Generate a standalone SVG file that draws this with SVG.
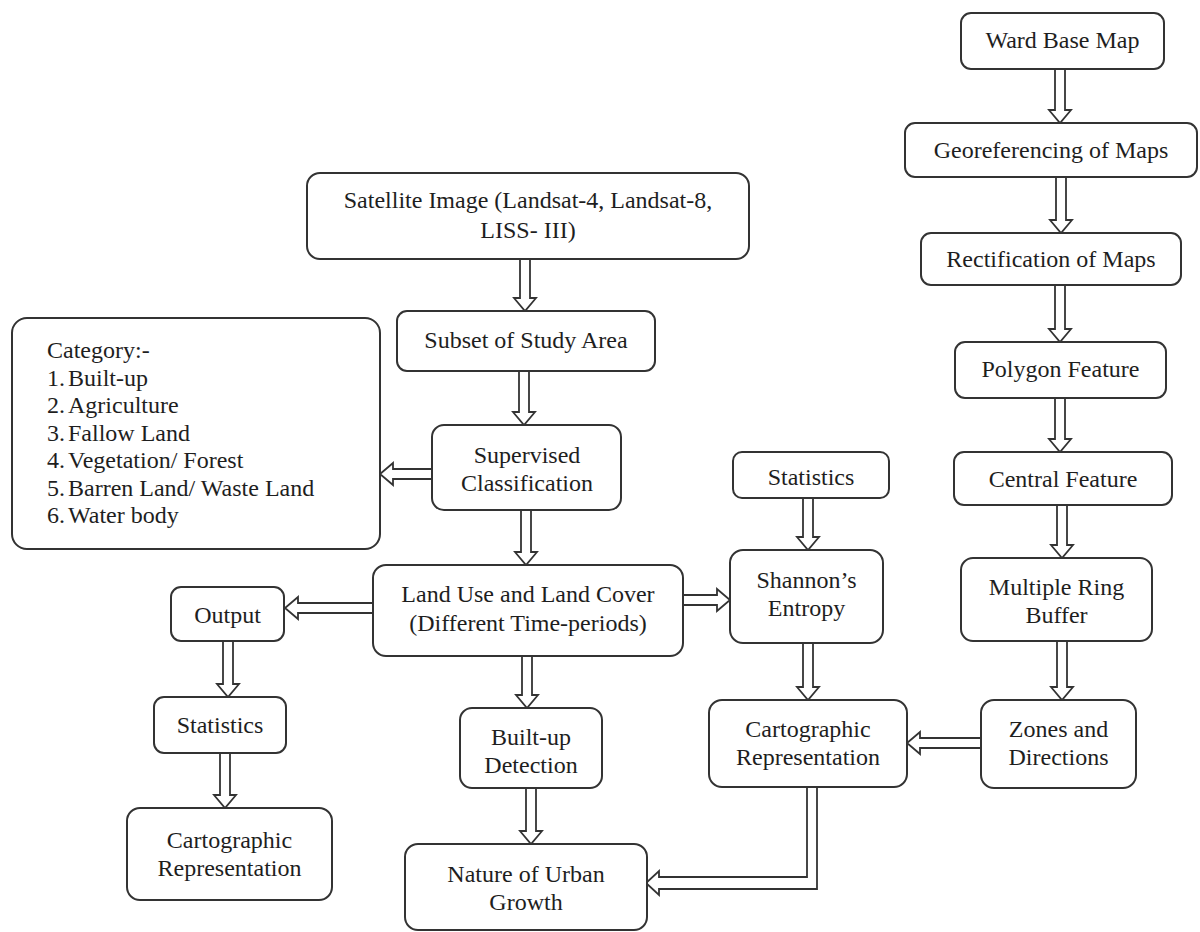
<svg xmlns="http://www.w3.org/2000/svg" width="1200" height="932" viewBox="0 0 1200 932">
<style>
.box{fill:#fff;stroke:#333;stroke-width:2}
.t{font-family:"Liberation Serif","Times New Roman",serif;font-size:24px;fill:#1e1e1e;text-anchor:middle}
.tl{font-family:"Liberation Serif","Times New Roman",serif;font-size:24px;fill:#1e1e1e}
.ar{fill:#fff;stroke:#333;stroke-width:1.8;stroke-linejoin:miter}
</style>
<rect width="1200" height="932" fill="#fff"/>
<g id="connectors">
<path class="ar" d="M520,259 V298 H514 L525,311 L536,298 H530 V259"/>
<path class="ar" d="M519,371 V412 H513 L524,425 L535,412 H529 V371"/>
<path class="ar" d="M521,510 V552 H515 L526,565 L537,552 H531 V510"/>
<path class="ar" d="M522,656 V695 H516 L527,708 L538,695 H532 V656"/>
<path class="ar" d="M526,788 V831 H520 L531,844 L542,831 H536 V788"/>
<path class="ar" d="M223,641 V684 H217 L228,697 L239,684 H233 V641"/>
<path class="ar" d="M220,753 V795 H214 L225,808 L236,795 H230 V753"/>
<path class="ar" d="M803,498 V537 H797 L808,550 L819,537 H813 V498"/>
<path class="ar" d="M803,643 V687 H797 L808,700 L819,687 H813 V643"/>
<path class="ar" d="M1055,69 V110 H1049 L1060,123 L1071,110 H1065 V69"/>
<path class="ar" d="M1056,177 V220 H1050 L1061,233 L1072,220 H1066 V177"/>
<path class="ar" d="M1055,285 V329 H1049 L1060,342 L1071,329 H1065 V285"/>
<path class="ar" d="M1055,398 V439 H1049 L1060,452 L1071,439 H1065 V398"/>
<path class="ar" d="M1057,505 V545 H1051 L1062,558 L1073,545 H1067 V505"/>
<path class="ar" d="M1057,641 V687 H1051 L1062,700 L1073,687 H1067 V641"/>
<path class="ar" d="M432,469 H393 V463 L380,474 L393,485 V479 H432"/>
<path class="ar" d="M373,603 H298 V597 L285,608 L298,619 V613 H373"/>
<path class="ar" d="M683,595 H717 V589 L730,600 L717,611 V605 H683"/>
<path class="ar" d="M981,738 H920 V732 L907,743 L920,754 V748 H981"/>
<path class="ar" d="M807,787 V877 H659 V871 L646,883 L659,895 V889 H817 V787"/>
</g>
<g id="satellite"><rect class="box" x="307" y="173" width="442" height="86" rx="13"/><text class="t" x="528" y="208">Satellite Image (Landsat-4, Landsat-8,</text><text class="t" x="528" y="238">LISS- III)</text></g>
<g id="subset"><rect class="box" x="397" y="311" width="258" height="60" rx="10"/><text class="t" x="526" y="348">Subset of Study Area</text></g>
<g id="category"><rect class="box" x="12" y="318" width="368" height="231" rx="15"/>
<text class="tl" x="47" y="358">Category:-</text>
<text class="tl" y="386"><tspan x="47">1.</tspan><tspan x="68">Built-up</tspan></text>
<text class="tl" y="413"><tspan x="47">2.</tspan><tspan x="68">Agriculture</tspan></text>
<text class="tl" y="441"><tspan x="47">3.</tspan><tspan x="68">Fallow Land</tspan></text>
<text class="tl" y="468"><tspan x="47">4.</tspan><tspan x="68">Vegetation/ Forest</tspan></text>
<text class="tl" y="496"><tspan x="47">5.</tspan><tspan x="68">Barren Land/ Waste Land</tspan></text>
<text class="tl" y="523"><tspan x="47">6.</tspan><tspan x="68">Water body</tspan></text>
</g>
<g id="supervised"><rect class="box" x="432" y="425" width="189" height="85" rx="12"/><text class="t" x="527" y="463">Supervised</text><text class="t" x="527" y="491">Classification</text></g>
<g id="landuse"><rect class="box" x="373" y="565" width="310" height="91" rx="13"/><text class="t" x="528" y="602">Land Use and Land Cover</text><text class="t" x="528" y="631">(Different Time-periods)</text></g>
<g id="output"><rect class="box" x="171" y="587" width="113" height="54" rx="10"/><text class="t" x="227.5" y="623">Output</text></g>
<g id="statistics-left"><rect class="box" x="154" y="697" width="132" height="56" rx="10"/><text class="t" x="220" y="733">Statistics</text></g>
<g id="cartographic-left"><rect class="box" x="127" y="808" width="205" height="92" rx="13"/><text class="t" x="229.5" y="848">Cartographic</text><text class="t" x="229.5" y="876">Representation</text></g>
<g id="builtup"><rect class="box" x="460" y="708" width="142" height="80" rx="12"/><text class="t" x="531" y="745">Built-up</text><text class="t" x="531" y="773">Detection</text></g>
<g id="nature"><rect class="box" x="405" y="844" width="242" height="86" rx="13"/><text class="t" x="526" y="882">Nature of Urban</text><text class="t" x="526" y="910">Growth</text></g>
<g id="statistics-mid"><rect class="box" x="733" y="452" width="156" height="46" rx="9"/><text class="t" x="811" y="485">Statistics</text></g>
<g id="shannon"><rect class="box" x="730" y="550" width="153" height="93" rx="13"/><text class="t" x="806.5" y="588">Shannon’s</text><text class="t" x="806.5" y="616">Entropy</text></g>
<g id="cartographic-right"><rect class="box" x="709" y="700" width="198" height="87" rx="13"/><text class="t" x="808" y="737">Cartographic</text><text class="t" x="808" y="765">Representation</text></g>
<g id="ward"><rect class="box" x="961" y="13" width="203" height="56" rx="10"/><text class="t" x="1062.5" y="48">Ward Base Map</text></g>
<g id="georeferencing"><rect class="box" x="905" y="123" width="292" height="54" rx="10"/><text class="t" x="1051" y="158">Georeferencing of Maps</text></g>
<g id="rectification"><rect class="box" x="921" y="233" width="260" height="52" rx="10"/><text class="t" x="1051" y="267">Rectification of Maps</text></g>
<g id="polygon"><rect class="box" x="955" y="342" width="211" height="56" rx="10"/><text class="t" x="1060.5" y="377">Polygon Feature</text></g>
<g id="central"><rect class="box" x="954" y="452" width="218" height="53" rx="10"/><text class="t" x="1063" y="487">Central Feature</text></g>
<g id="multiple"><rect class="box" x="961" y="558" width="191" height="83" rx="12"/><text class="t" x="1056.5" y="595">Multiple Ring</text><text class="t" x="1056.5" y="623">Buffer</text></g>
<g id="zones"><rect class="box" x="981" y="700" width="155" height="88" rx="13"/><text class="t" x="1058.5" y="737">Zones and</text><text class="t" x="1058.5" y="765">Directions</text></g>
</svg>
